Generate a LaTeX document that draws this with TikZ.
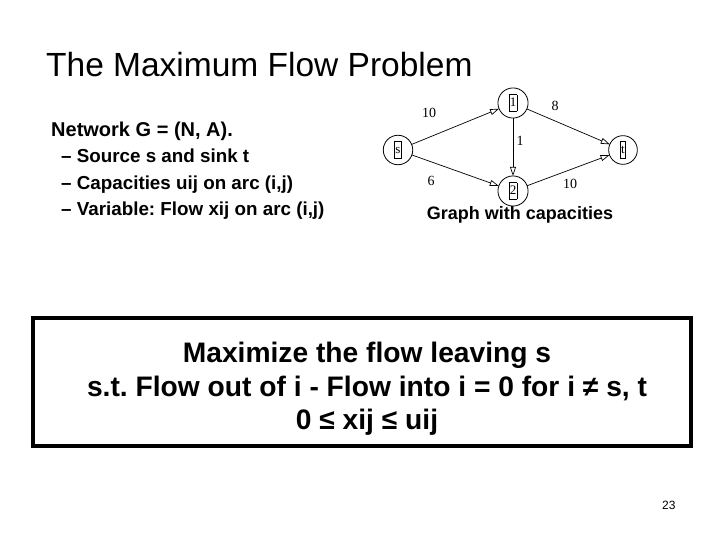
\documentclass[tikz,border=0pt]{standalone}
\usepackage{fontspec}
\setmainfont{Liberation Sans}
\newfontfamily\graphfont{Liberation Serif}
\usetikzlibrary{arrows.meta,positioning}

\newcommand{\vlab}[1]{{\setlength{\fboxsep}{0.5pt}\setlength{\fboxrule}{0.6pt}\fbox{\rule[-4pt]{0pt}{15pt}#1}}}

\begin{document}
\frenchspacing
\begin{tikzpicture}[x=1pt, y=-1pt,
    vertex/.style={circle, draw, line width=0.8pt, minimum size=27pt,
      inner sep=4pt, outer sep=0pt, font=\graphfont\fontsize{13}{13}\selectfont},
    arc/.style={-{Triangle[open, length=9pt, width=6pt]}, line width=0.7pt},
    caplab/.style={font=\graphfont\fontsize{14}{14}\selectfont, inner sep=0pt},
    txt/.style={anchor=base west, inner sep=0pt},
    frame/.style={rectangle, draw, line width=4pt, minimum width=658pt, minimum height=128pt}
  ]
    \useasboundingbox (0,0) rectangle (720,540);

    % Title and bullets
    \node[txt, font=\fontsize{33.5}{40}\selectfont] (title) at (46,77) {The Maximum Flow Problem};
    \node[txt, font=\fontsize{20}{24}\selectfont\bfseries] (net) at (51,137) {Network G = (N, A).};
    \node[txt, font=\fontsize{18.8}{23}\selectfont\bfseries] (b1) at (61,163) {-- Source s and sink t};
    \node[txt, font=\fontsize{18.8}{23}\selectfont\bfseries] (b2) at (61,190) {-- Capacities uij on arc (i,j)};
    \node[txt, font=\fontsize{18.8}{23}\selectfont\bfseries] (b3) at (61,215) {-- Variable: Flow xij on arc (i,j)};

    % Graph
    \node[vertex] (s)  at (398,150) {\vlab{s}};
    \node[vertex] (n1) at (513,103) {\vlab{1}};
    \node[vertex] (n2) at (513,191) {\vlab{2}};
    \node[vertex] (t)  at (623,150) {\vlab{t}};

    \draw[arc] (s) -- (n1);
    \draw[arc] (s) -- (n2);
    \draw[arc] (n1) -- (n2);
    \draw[arc] (n1) -- (t);
    \draw[arc] (n2) -- (t);

    \node[caplab] (c1) at (429,113) {10};
    \node[caplab] (c2) at (431,181) {6};
    \node[caplab] (c3) at (520,141) {1};
    \node[caplab] (c4) at (555,106) {8};
    \node[caplab] (c5) at (570,184) {10};

    \node[font=\fontsize{18}{22}\selectfont\bfseries, inner sep=0pt] (glab) at (520,215) {Graph with capacities};

    % Problem statement
    \node[frame] (goal) at (362,382) {};
    \node[align=center, inner sep=0pt, font=\fontsize{28.2}{33.5}\selectfont\bfseries] (goaltxt) at (367,389)
      {Maximize the flow leaving s\\s.t. Flow out of i - Flow into i = 0 for i ≠ s, t\\0 ≤ xij ≤ uij};

    \node[txt, font=\fontsize{12}{14}\selectfont] (page) at (662,509) {23};
\end{tikzpicture}
\end{document}
